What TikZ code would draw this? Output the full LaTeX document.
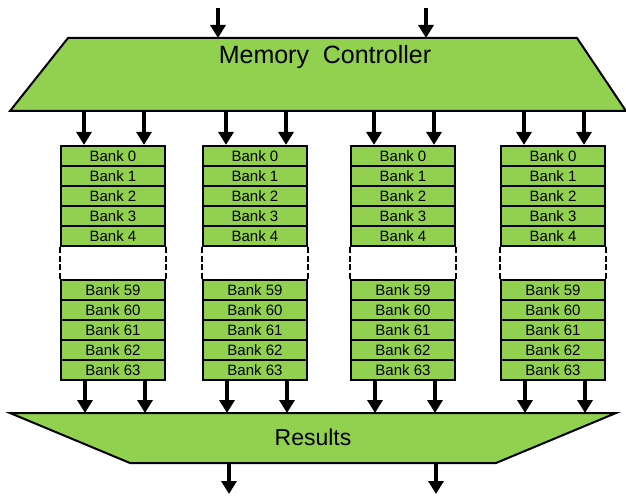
\documentclass[tikz,border=0pt]{standalone}
\usepackage{fontspec}
\setmainfont{Liberation Sans}
\usetikzlibrary{arrows.meta}
\definecolor{bankgreen}{RGB}{146,208,80}
\tikzset{
  unitbox/.style={draw=black, fill=bankgreen, line width=2bp, line join=miter},
  bank/.style={draw=black, fill=bankgreen, line width=2.2bp, minimum width=104bp,
    minimum height=20bp, inner sep=0pt, font=\fontsize{15bp}{15bp}\selectfont},
  arr/.style={line width=3.6bp, -{Triangle[width=15bp,length=13bp]}},
  gapline/.style={line width=2bp, dash pattern=on 6bp off 2.5bp},
}
\begin{document}
\begin{tikzpicture}[x=1bp,y=-1bp]
\useasboundingbox (0,0) rectangle (626,497);

% memory controller
\draw[unitbox] (68,38) -- (577,38) -- (626,111) -- (10,111) -- cycle;
\node[font=\fontsize{25bp}{25bp}\selectfont] (mc) at (325,57) {Memory\hspace{0.55em}Controller};

% results unit
\draw[unitbox] (10,413) -- (616,413) -- (496,463) -- (130,463) -- cycle;
\node[font=\fontsize{23bp}{23bp}\selectfont] (res) at (313,437) {Results};

% inputs and outputs
\coordinate (inA) at (218,8);   \coordinate (inAe) at (218,38);
\coordinate (inB) at (426,8);   \coordinate (inBe) at (426,38);
\coordinate (outA) at (229,463); \coordinate (outAe) at (229,494);
\coordinate (outB) at (436,463); \coordinate (outBe) at (436,494);
\draw[arr] (inA) -- (inAe);
\draw[arr] (inB) -- (inBe);
\draw[arr] (outA) -- (outAe);
\draw[arr] (outB) -- (outBe);

% bank columns
\foreach \i/\x in {1/61, 2/203, 3/351, 4/501} {
  \foreach \k/\lab in {0/0, 1/1, 2/2, 3/3, 4/4} {
    \node[bank] (c\i-\lab) at (\x+52, 156+20*\k) {Bank \lab};
  }
  \foreach \k/\lab in {0/59, 1/60, 2/61, 3/62, 4/63} {
    \node[bank] (c\i-\lab) at (\x+52, 290+20*\k) {Bank \lab};
  }
  % elided banks
  \draw[gapline] (c\i-4.south west) -- (c\i-59.north west);
  \draw[gapline] (c\i-4.south east) -- (c\i-59.north east);
  % links from the controller and to the results unit
  \coordinate (mi\i a) at (\x+23,111);
  \coordinate (mi\i b) at (\x+83,111);
  \coordinate (ro\i a) at (\x+24,413);
  \coordinate (ro\i b) at (\x+84,413);
  \draw[arr] (mi\i a) -- (mi\i a |- c\i-0.north);
  \draw[arr] (mi\i b) -- (mi\i b |- c\i-0.north);
  \draw[arr] (ro\i a |- c\i-63.south) -- (ro\i a);
  \draw[arr] (ro\i b |- c\i-63.south) -- (ro\i b);
}
\end{tikzpicture}
\end{document}
